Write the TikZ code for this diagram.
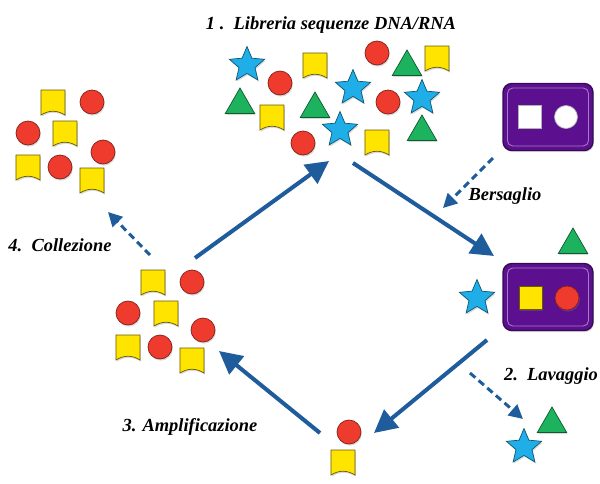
\documentclass[tikz,border=0pt]{standalone}
\usepackage{fontspec}
\setmainfont{Liberation Serif}
\usetikzlibrary{arrows.meta, shapes.geometric, shadows}

\definecolor{flowblue}{HTML}{1F5C9C}
\definecolor{sqyellow}{HTML}{FFE400}
\definecolor{ballred}{HTML}{EE3B2E}
\definecolor{starblue}{HTML}{1FAEE8}
\definecolor{trigreen}{HTML}{1DB35E}
\definecolor{boxpurple}{HTML}{5C1090}

\begin{document}
\begin{tikzpicture}[x=0.02cm,y=-0.02cm,
  shade/.style={drop shadow={opacity=0.3,shadow xshift=0.5pt,shadow yshift=-0.9pt}},
  ball/.style={circle,shade,fill=ballred,draw=ballred!55!black,line width=0.4pt,minimum size=0.48cm,inner sep=0pt},
  starry/.style={star,star points=5,star point ratio=2.2,shade,fill=starblue,draw=starblue!50!black,line width=0.4pt,minimum size=0.74cm,inner sep=0pt},
  tri/.style={regular polygon,regular polygon sides=3,shade,fill=trigreen,draw=trigreen!50!black,line width=0.4pt,minimum size=0.68cm,inner sep=0pt},
  sq/.pic={\path[shade,fill=sqyellow,draw=sqyellow!40!black,line width=0.4pt]
    (-12,-12) -- (12,-12) -- (12,13) .. controls (4,8) and (-4,8) .. (-12,13) -- cycle;},
  flow/.style={draw=flowblue,line width=2.3pt,-{Triangle[length=13pt,width=13pt]}},
  dflow/.style={draw=flowblue,line width=1.7pt,dash pattern=on 4pt off 2.5pt,-{Triangle[length=8pt,width=8pt]}},
  lbl/.style={font=\fontsize{10.5}{12}\selectfont\bfseries\itshape},
  tbox/.style={rectangle,rounded corners=5pt,shade,fill=boxpurple,draw=boxpurple!60!black,line width=0.8pt,minimum width=1.8cm,minimum height=1.34cm},
  tinner/.style={rectangle,rounded corners=3pt,draw=boxpurple!55!white,line width=0.5pt,minimum width=1.62cm,minimum height=1.16cm}]
\useasboundingbox (0,0) rectangle (600,484);

% 1. libreria
\node[lbl] (t-lib) at (331,25) {1 .\enspace Libreria sequenze DNA/RNA};
\foreach \p in {(315,65),(437,58),(272,117),(377,142)} \pic at \p {sq};
\foreach \p [count=\i] in {(280,83),(377,53),(388,102),(303,143)} \node[ball] (lib-c\i) at \p {};
\foreach \p [count=\i] in {(247,65),(353,88),(422,98),(340,130)} \node[starry] (lib-s\i) at \p {};
\foreach \p [count=\i] in {(407,67),(240,105),(315,109),(422,132)} \node[tri] (lib-t\i) at \p {};

% bersaglio
\node[tbox] (bers) at (548,117) {};
\node[tinner] (bers-in) at (548,117) {};
\node[rectangle,fill=white,draw=gray!60,minimum size=0.46cm,inner sep=0pt] (bers-sq) at (530,117) {};
\node[circle,fill=white,draw=gray!60,minimum size=0.46cm,inner sep=0pt] (bers-c) at (566,117) {};
\node[lbl] (t-bers) at (505,196) {Bersaglio};

% legame
\node[tbox] (bind) at (548,297) {};
\node[tinner] (bind-in) at (548,297) {};
\node[rectangle,shade,fill=sqyellow,draw=sqyellow!40!black,minimum size=0.46cm,inner sep=0pt] (bind-sq) at (531,298) {};
\node[ball] (bind-c) at (567,298) {};
\node[starry] (bind-s) at (477,298) {};
\node[tri] (bind-t) at (573,245) {};

% 2. lavaggio
\node[lbl] (t-wash) at (551,376) {2.\enspace Lavaggio};
\node[tri] (wash-t) at (552,424) {};
\node[starry] (wash-s) at (524,447) {};

% eluizione
\node[ball] (elu-c) at (349,432) {};
\pic at (343,462) {sq};
\node[lbl] (t-amp) at (190,427) {3. Amplificazione};

% amplificazione
\foreach \p in {(153,282),(166,313),(128,347),(192,360)} \pic at \p {sq};
\foreach \p [count=\i] in {(192,282),(128,313),(203,330),(160,347)} \node[ball] (amp-c\i) at \p {};

% 4. collezione
\node[lbl] (t-col) at (60,245) {4.\enspace Collezione};
\foreach \p in {(53,102),(65,133),(28,167),(92,180)} \pic at \p {sq};
\foreach \p [count=\i] in {(92,102),(28,133),(103,152),(60,167)} \node[ball] (col-c\i) at \p {};

% ciclo
\coordinate (amp-out) at (195,258);
\coordinate (lib-in) at (329,161);
\coordinate (lib-out) at (353,163);
\coordinate (bind-arr) at (494,256);
\coordinate (bind-out) at (487,340);
\coordinate (elu-in) at (374,433);
\coordinate (elu-out) at (320,433);
\coordinate (amp-in) at (219,351);
\draw[flow] (amp-out) -- (lib-in);
\draw[flow] (lib-out) -- (bind-arr);
\draw[flow] (bind-out) -- (elu-in);
\draw[flow] (elu-out) -- (amp-in);

\coordinate (bers-from) at (493,158);
\coordinate (bers-to) at (443,208);
\coordinate (wash-from) at (470,373);
\coordinate (wash-to) at (523,419);
\coordinate (col-from) at (150,255);
\coordinate (col-to) at (108,212);
\draw[dflow] (bers-from) -- (bers-to);
\draw[dflow] (wash-from) -- (wash-to);
\draw[dflow] (col-from) -- (col-to);
\end{tikzpicture}
\end{document}
